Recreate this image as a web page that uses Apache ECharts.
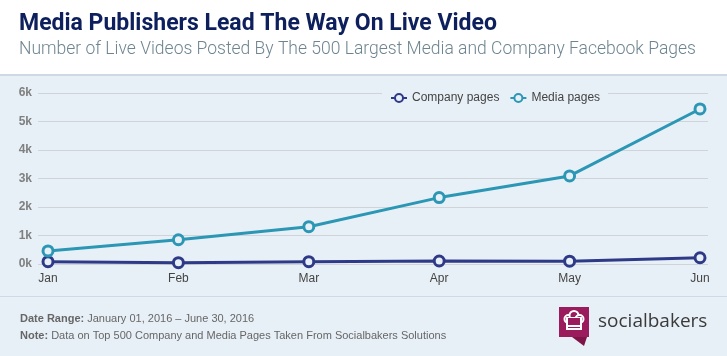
<!DOCTYPE html>
<html>
<head>
<meta charset="utf-8">
<script src="https://cdn.jsdelivr.net/npm/echarts@6/dist/echarts.min.js"></script>
<style>html,body{margin:0;padding:0;background:#e8f0f7}#c{width:727px;height:356px}</style>
</head>
<body>
<div id="c"></div>
<script>
var months = ['Jan', 'Feb', 'Mar', 'Apr', 'May', 'Jun'];
var companyPages = [80, 45, 80, 105, 100, 220];
var mediaPages = [460, 850, 1310, 2330, 3090, 5440];
var yTicks = [0, 1000, 2000, 3000, 4000, 5000, 6000];

var BG = '#e8f0f7';
var LOGO = '#9a1c5d';
var chart = echarts.init(document.getElementById('c'), null, {renderer: 'canvas'});

function lineSeries(name, data, color) {
  return {
    name: name, type: 'line', data: data, xAxisIndex: 0, yAxisIndex: 0,
    symbol: 'circle', symbolSize: 10, showAllSymbol: true,
    lineStyle: {color: color, width: 3},
    itemStyle: {color: BG, borderColor: color, borderWidth: 3},
    emphasis: {disabled: true}, z: 3
  };
}

chart.setOption({
  backgroundColor: BG,
  animation: false,
  title: {
    text: 'Media Publishers Lead The Way On Live Video',
    subtext: 'Number of Live Videos Posted By The 500 Largest Media and Company Facebook Pages',
    left: 19, top: 13, itemGap: 5, padding: 0,
    textStyle: {fontFamily: 'Roboto', fontWeight: 'bold', fontSize: 23, color: '#0d1f5c'},
    subtextStyle: {fontFamily: 'Roboto', fontWeight: 300, fontSize: 17.5, color: '#6e8591'}
  },
  legend: {
    data: ['Company pages', 'Media pages'],
    left: 382, top: 88, padding: [4, 8], itemGap: 10,
    itemWidth: 16, itemHeight: 10,
    backgroundColor: BG,
    textStyle: {fontFamily: 'Liberation Sans, Arial', fontSize: 12, color: '#444'}
  },
  grid: [
    {left: 48, right: 27, top: 93, bottom: 92},
    {left: 38, right: 19, top: 93, bottom: 92}
  ],
  xAxis: [
    {type: 'category', data: months, boundaryGap: false, gridIndex: 0,
     axisLine: {show: false}, axisTick: {show: false},
     axisLabel: {margin: 9, fontFamily: 'Liberation Sans, Arial', fontSize: 12, color: '#444'}},
    {type: 'value', gridIndex: 1, min: 0, max: 1, show: false}
  ],
  yAxis: [
    {type: 'value', gridIndex: 0, min: 0, max: 6000, interval: 1000, show: false},
    {type: 'value', gridIndex: 1, min: yTicks[0], max: yTicks[yTicks.length - 1], interval: 1000,
     axisLine: {show: false}, axisTick: {show: false},
     splitLine: {lineStyle: {color: '#d0d4d8', width: 1}},
     axisLabel: {margin: 6, fontFamily: 'Liberation Sans, Arial', fontWeight: 'bold', fontSize: 12, color: '#7f7f7f',
       formatter: function (v) { return (v / 1000) + 'k'; }}}
  ],
  series: [
    lineSeries('Company pages', companyPages, '#2e3a87'),
    lineSeries('Media pages', mediaPages, '#2b97b5')
  ],
  graphic: [
    {type: 'rect', shape: {x: 0, y: 0, width: 727, height: 74}, style: {fill: '#ffffff'}, z: -10, silent: true},
    {type: 'rect', shape: {x: 0, y: 74, width: 727, height: 2}, style: {fill: '#cfd9e3'}, z: -10, silent: true},
    {type: 'rect', shape: {x: 0, y: 296, width: 727, height: 1}, style: {fill: '#cfd9e3'}, z: -10, silent: true},
    {type: 'text', x: 20, y: 319, style: {
      text: '{b|Date Range:} January 01, 2016 – June 30, 2016',
      verticalAlign: 'middle', fill: '#666', font: '11px "Liberation Sans", Arial',
      rich: {b: {fontWeight: 'bold', fontSize: 11, fontFamily: 'Liberation Sans', fill: '#666'}}}},
    {type: 'text', x: 20, y: 336, style: {
      text: '{b|Note:} Data on Top 500 Company and Media Pages Taken From Socialbakers Solutions',
      verticalAlign: 'middle', fill: '#666', font: '11px "Liberation Sans", Arial',
      rich: {b: {fontWeight: 'bold', fontSize: 11, fontFamily: 'Liberation Sans', fill: '#666'}}}},
    {type: 'group', silent: true, children: [
      {type: 'rect', shape: {x: 559, y: 307, width: 30, height: 30}, style: {fill: LOGO}},
      {type: 'polygon', shape: {points: [[572, 337], [587, 337], [584, 346]]}, style: {fill: '#7d1549'}},
      {type: 'circle', shape: {cx: 568.5, cy: 319, r: 4}, style: {fill: LOGO, stroke: '#fff', lineWidth: 2}},
      {type: 'circle', shape: {cx: 574, cy: 315.5, r: 4.5}, style: {fill: LOGO, stroke: '#fff', lineWidth: 2}},
      {type: 'circle', shape: {cx: 579.5, cy: 319, r: 4}, style: {fill: LOGO, stroke: '#fff', lineWidth: 2}},
      {type: 'rect', shape: {x: 567, y: 318, width: 14, height: 11}, style: {fill: LOGO, stroke: '#fff', lineWidth: 2}},
      {type: 'rect', shape: {x: 568, y: 318, width: 12, height: 3}, style: {fill: LOGO}},
      {type: 'line', shape: {x1: 567, y1: 326, x2: 581, y2: 326}, style: {stroke: '#fff', lineWidth: 2}}
    ]},
    {type: 'text', x: 598, y: 322, style: {text: 'socialbakers', verticalAlign: 'middle',
      font: '19px "Open Sans"', fill: '#3a3a3a'}}
  ]
});
</script>
</body>
</html>
